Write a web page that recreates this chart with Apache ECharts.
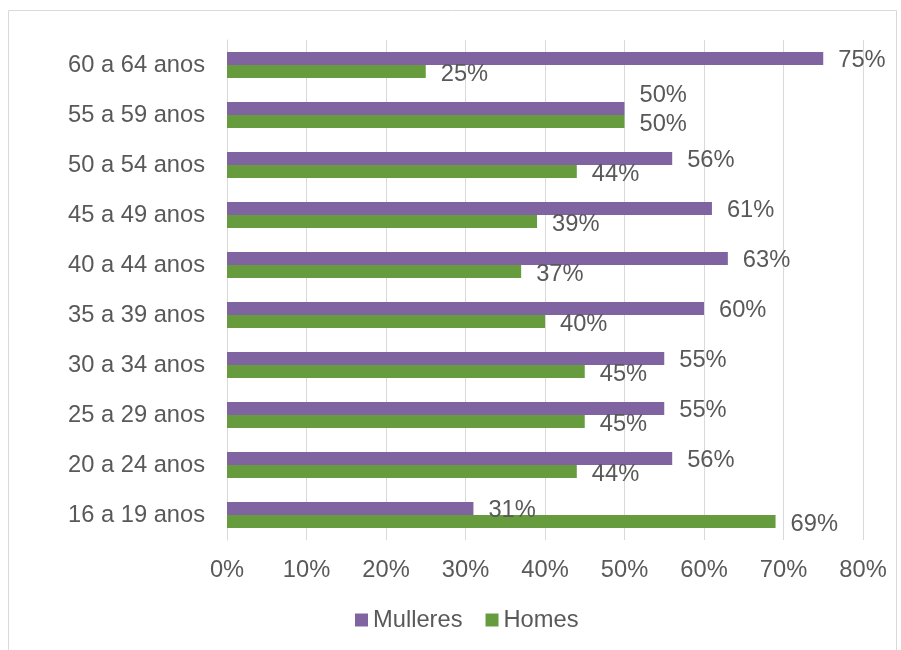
<!DOCTYPE html>
<html>
<head>
<meta charset="utf-8">
<script src="https://cdn.jsdelivr.net/npm/echarts@6/dist/echarts.min.js"></script>
<style>
  html, body { margin: 0; padding: 0; background: #ffffff; }
  #chart { width: 901px; height: 650px; }
</style>
</head>
<body>
<div id="chart"></div>
<script>
// Age groups, listed bottom to top
const categories = ['16 a 19 anos', '20 a 24 anos', '25 a 29 anos', '30 a 34 anos', '35 a 39 anos',
  '40 a 44 anos', '45 a 49 anos', '50 a 54 anos', '55 a 59 anos', '60 a 64 anos'];
// Share of each sex within each age group (%)
const mulleres = [31, 56, 55, 55, 60, 63, 61, 56, 50, 75];
const homes = [69, 44, 45, 45, 40, 37, 39, 44, 50, 25];

const textColor = '#595959';
const font = 'Liberation Sans, Arial, sans-serif';
const fontSize = 23.7;

// Lift the women's label where it would collide with the men's one
const mullData = mulleres.map((v, i) => (
  categories[i] === '55 a 59 anos'
    ? { value: v, label: { offset: [0, -13] } }
    : v
));

const chart = echarts.init(document.getElementById('chart'));
chart.setOption({
  animation: false,
  textStyle: { fontFamily: font },
  graphic: [{
    type: 'rect',
    shape: { x: 8.5, y: 10.5, width: 888, height: 660 },
    style: { fill: 'none', stroke: '#d9d9d9', lineWidth: 1 },
    silent: true
  }],
  grid: { left: 227, right: 38, top: 40, bottom: 110 },
  legend: {
    data: ['Mulleres', 'Homes'],
    left: 355,
    top: 608,
    padding: 0,
    icon: 'rect',
    itemWidth: 13,
    itemHeight: 13,
    itemGap: 23,
    textStyle: { color: textColor, fontSize: fontSize, fontFamily: font }
  },
  xAxis: {
    type: 'value',
    min: 0,
    max: 80,
    interval: 10,
    axisLine: { show: false },
    axisTick: { show: false },
    splitLine: { lineStyle: { color: '#d9d9d9', width: 1 } },
    axisLabel: { formatter: '{value}%', color: textColor, fontSize: fontSize, fontFamily: font, margin: 18 }
  },
  yAxis: {
    type: 'category',
    data: categories,
    axisLine: { lineStyle: { color: '#d9d9d9', width: 1 } },
    axisTick: { show: false },
    axisLabel: { color: textColor, fontSize: fontSize, fontFamily: font, margin: 22 }
  },
  series: [
    {
      name: 'Mulleres',
      type: 'bar',
      data: mullData,
      barWidth: 13,
      barGap: '0%',
      itemStyle: { color: '#8064a2' },
      label: {
        show: true,
        position: 'right',
        distance: 15,
        offset: [0, 2],
        formatter: '{c}%',
        color: textColor,
        fontSize: fontSize,
        fontFamily: font
      }
    },
    {
      name: 'Homes',
      type: 'bar',
      data: homes,
      barWidth: 13,
      barGap: '0%',
      itemStyle: { color: '#669c3e' },
      label: {
        show: true,
        position: 'right',
        distance: 15,
        offset: [0, 3],
        formatter: '{c}%',
        color: textColor,
        fontSize: fontSize,
        fontFamily: font
      }
    }
  ]
});
</script>
</body>
</html>
